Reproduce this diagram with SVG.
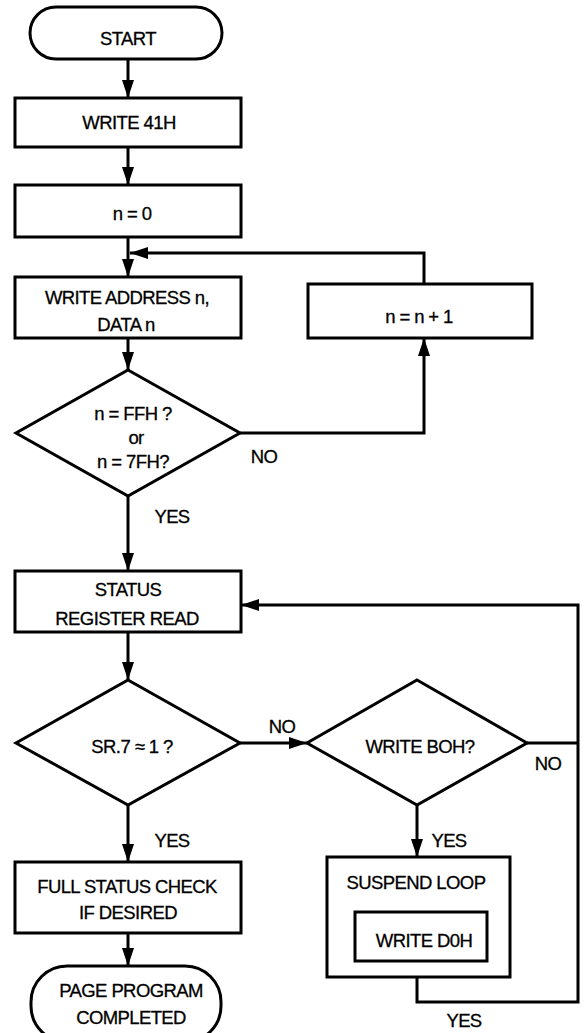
<svg xmlns="http://www.w3.org/2000/svg" width="588" height="1033" viewBox="0 0 588 1033">
  <style>
    .shape { fill: #ffffff; stroke: #000000; stroke-width: 3; stroke-linejoin: miter; }
    .wire { fill: none; stroke: #000000; stroke-width: 3; }
    .arrow { marker-end: url(#head); }
    text { font-family: "Liberation Sans", Arial, Helvetica, sans-serif; font-size: 18.5px; letter-spacing: -0.6px; fill: #000000; stroke: #000000; stroke-width: 0.3; text-anchor: middle; }
  </style>
  <defs>
    <marker id="head" viewBox="0 0 18 12" refX="18" refY="6" markerWidth="18" markerHeight="12" markerUnits="userSpaceOnUse" orient="auto">
      <path d="M0,0 L18,6 L0,12 Z" fill="#000000"/>
    </marker>
  </defs>
  <rect width="588" height="1033" fill="#ffffff"/>

  <!-- connectors -->
  <g id="connectors">
    <line class="wire arrow" x1="128" y1="59" x2="128" y2="98"/>
    <line class="wire arrow" x1="128" y1="147" x2="128" y2="185"/>
    <line class="wire arrow" x1="128" y1="237" x2="128" y2="277"/>
    <path class="wire arrow" d="M424,284 V253 H130"/>
    <line class="wire arrow" x1="128" y1="338" x2="128" y2="370"/>
    <path class="wire arrow" d="M240,433 H424 V338"/>
    <line class="wire arrow" x1="128" y1="496" x2="128" y2="571"/>
    <line class="wire arrow" x1="128" y1="632" x2="128" y2="680"/>
    <line class="wire arrow" x1="240" y1="743" x2="307" y2="743"/>
    <line class="wire arrow" x1="128" y1="805" x2="128" y2="862"/>
    <line class="wire arrow" x1="128" y1="933" x2="128" y2="966"/>
    <line class="wire arrow" x1="417" y1="805" x2="417" y2="857"/>
    <path class="wire" d="M527,743 H578"/>
    <path class="wire arrow" d="M417,977 V1002 H578 V605 H241"/>
    <text x="264" y="463">NO</text>
    <text x="172" y="523">YES</text>
    <text x="282" y="733">NO</text>
    <text x="548" y="770">NO</text>
    <text x="172" y="847">YES</text>
    <text x="449" y="847">YES</text>
    <text x="464" y="1027">YES</text>
  </g>

  <g id="start">
    <rect class="shape" x="30" y="7" width="192" height="52" rx="26" ry="26"/>
    <text x="128" y="45">START</text>
  </g>

  <g id="write-41h">
    <rect class="shape" x="15" y="98" width="226" height="49"/>
    <text x="129" y="129">WRITE 41H</text>
  </g>

  <g id="init-n">
    <rect class="shape" x="15" y="185" width="226" height="52"/>
    <text x="132" y="220">n = 0</text>
  </g>

  <g id="write-address">
    <rect class="shape" x="15" y="277" width="226" height="61"/>
    <text x="127" y="304">WRITE ADDRESS n,</text>
    <text x="126" y="331">DATA n</text>
  </g>

  <g id="increment-n">
    <rect class="shape" x="308" y="284" width="224" height="54"/>
    <text x="419" y="323">n = n + 1</text>
  </g>

  <g id="last-address">
    <polygon class="shape" points="128,370 240,433 128,496 16,433"/>
    <text x="133" y="420">n = FFH ?</text>
    <text x="136" y="444">or</text>
    <text x="133" y="468">n = 7FH?</text>
  </g>

  <g id="status-read">
    <rect class="shape" x="15" y="571" width="226" height="61"/>
    <text x="128" y="596">STATUS</text>
    <text x="127" y="625">REGISTER READ</text>
  </g>

  <g id="sr7-check">
    <polygon class="shape" points="128,680 240,743 128,805 16,743"/>
    <text x="132" y="753">SR.7 ≈ 1 ?</text>
  </g>

  <g id="write-b0h">
    <polygon class="shape" points="417,680 527,743 417,805 307,743"/>
    <text x="420" y="753">WRITE BOH?</text>
  </g>

  <g id="full-status">
    <rect class="shape" x="15" y="862" width="226" height="71"/>
    <text x="127" y="893">FULL STATUS CHECK</text>
    <text x="128" y="919">IF DESIRED</text>
  </g>

  <g id="suspend-loop">
    <rect class="shape" x="327" y="857" width="183" height="120"/>
    <text x="416" y="889">SUSPEND LOOP</text>
    <g id="write-d0h">
      <rect class="shape" x="355" y="912" width="132" height="49"/>
      <text x="424" y="947">WRITE D0H</text>
    </g>
  </g>

  <g id="completed">
    <rect class="shape" x="31" y="966" width="190" height="76" rx="36" ry="36"/>
    <text x="131" y="997">PAGE PROGRAM</text>
    <text x="131" y="1024">COMPLETED</text>
  </g>
</svg>
